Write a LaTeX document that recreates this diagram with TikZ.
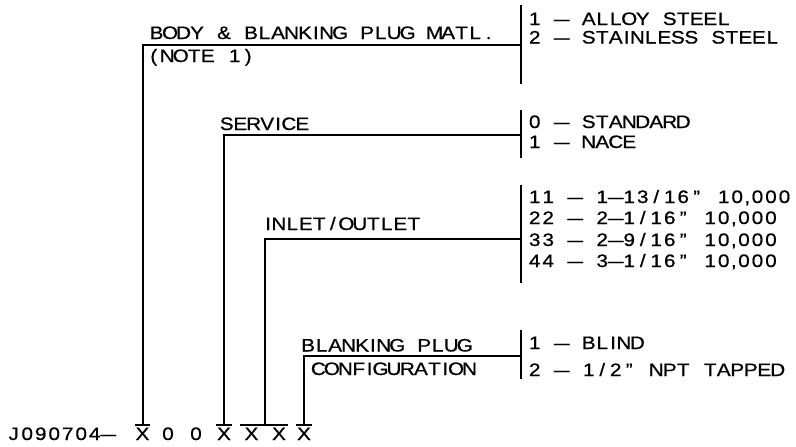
\documentclass[tikz,border=0pt]{standalone}
\usepackage{fontspec}
\usepackage{graphicx}
\setmainfont[FakeStretch=1.15,FakeBold=0.7]{Liberation Sans}
\usetikzlibrary{calc}
\newlength\cellw
\setlength\cellw{13.5pt}
\def\dsh{\scalebox{1.35}[1]{–}}
\def\monoend{\monoend}
\def\cellbox#1{\ifx#1I\makebox[0.6\cellw][c]{#1}\else\ifx#1,\makebox[0.5\cellw][c]{#1}\else\makebox[\cellw][c]{#1}\fi\fi}
\def\mono#1{\monoloop#1\monoend}
\def\monoloop#1{\ifx#1\monoend\else\cellbox{#1}\expandafter\monoloop\fi}
\tikzset{
  txt/.style={inner sep=0pt, outer sep=0pt, font=\fontsize{18}{18}\selectfont, anchor=base west},
  dig/.style={inner sep=0pt, outer sep=0pt, font=\fontsize{18}{18}\selectfont, anchor=base},
  ln/.style={line width=2pt}
}
\begin{document}
\begin{tikzpicture}[x=1pt,y=-1pt]
\useasboundingbox (0,0) rectangle (796,447);
% bottom code row
\node[txt] (code) at (7,440) {\mono{J090704\dsh}};
\node[dig] (x1) at (142.5,440) {X};
\node[dig] (z2) at (168,440) {0};
\node[dig] (z3) at (196,440) {0};
\node[dig] (x4) at (224,440) {X};
\node[dig] (x5) at (251.5,440) {X};
\node[dig] (x6) at (279,440) {X};
\node[dig] (x7) at (304,440) {X};
\coordinate (x1t) at ([yshift=2.5pt]x1.north);
\coordinate (x4t) at ([yshift=2.5pt]x4.north);
\coordinate (x56t) at ([yshift=2.5pt]$(x5.north)!0.5!(x6.north)$);
\coordinate (x7t) at ([yshift=2.5pt]x7.north);
% overbars
\draw[ln] ([xshift=-1pt,yshift=2.5pt]x1.north west) -- ([xshift=1pt,yshift=2.5pt]x1.north east);
\draw[ln] ([xshift=-1pt,yshift=2.5pt]x4.north west) -- ([xshift=1pt,yshift=2.5pt]x4.north east);
\draw[ln] ([xshift=-5pt,yshift=2.5pt]x5.north west) -- ([xshift=2pt,yshift=2.5pt]x6.north east);
\draw[ln] ([xshift=-1pt,yshift=2.5pt]x7.north west) -- ([xshift=1pt,yshift=2.5pt]x7.north east);

% group 1
\coordinate (b1t) at (521,5);
\coordinate (b1b) at (521,84);
\coordinate (h1) at (521,44.5);
\draw[ln] (b1t) -- (b1b);
\draw[ln] (h1) -| (x1t);
\node[txt] (t1) at (149.8,39) {\mono{BODY~\&~BLANKING~PLUG~MATL.}};
\node[txt] (t1b) at (147,62) {\mono{(NOTE~1)}};
\node[txt] (o11) at (528,25) {\mono{1~\dsh~ALLOY~STEEL}};
\node[txt] (o12) at (528,43.5) {\mono{2~\dsh~STAINLESS~STEEL}};

% group 2
\coordinate (b2t) at (521,110);
\coordinate (b2b) at (521,158);
\coordinate (h2) at (521,134.5);
\draw[ln] (b2t) -- (b2b);
\draw[ln] (h2) -| (x4t);
\node[txt] (t2) at (220,130) {\mono{SERVICE}};
\node[txt] (o21) at (528,128) {\mono{0~\dsh~STANDARD}};
\node[txt] (o22) at (528,148) {\mono{1~\dsh~NACE}};

% group 3
\coordinate (b3t) at (521,185);
\coordinate (b3b) at (521,283);
\coordinate (h3) at (521,238.5);
\draw[ln] (b3t) -- (b3b);
\draw[ln] (h3) -| (x56t);
\node[txt] (t3) at (264,230) {\mono{INLET/OUTLET}};
\node[txt] (o31) at (528,203) {\mono{11~\dsh~1\dsh13/16”~10,000}};
\node[txt] (o32) at (528,224) {\mono{22~\dsh~2\dsh1/16”~10,000}};
\node[txt] (o33) at (528,246) {\mono{33~\dsh~2\dsh9/16”~10,000}};
\node[txt] (o34) at (528,267) {\mono{44~\dsh~3\dsh1/16”~10,000}};

% group 4
\coordinate (b4t) at (521,330);
\coordinate (b4b) at (521,379);
\coordinate (h4) at (521,356);
\draw[ln] (b4t) -- (b4b);
\draw[ln] (h4) -| (x7t);
\node[txt] (t4) at (301.4,351.5) {\mono{BLANKING~PLUG}};
\node[txt] (t4b) at (311.6,375) {\mono{CONFIGURATION}};
\node[txt] (o41) at (528,349) {\mono{1~\dsh~BLIND}};
\node[txt] (o42) at (528,376) {\mono{2~\dsh~1/2”~NPT~TAPPED}};
\end{tikzpicture}
\end{document}
